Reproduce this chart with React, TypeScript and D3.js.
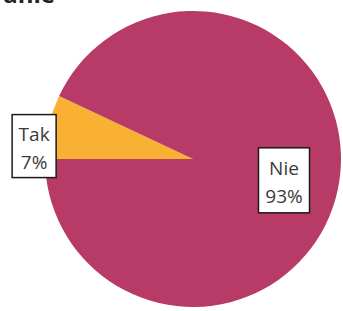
import React, { useEffect, useRef } from 'react';
import * as d3 from 'd3';

const categories = ['Tak', 'Nie'];
const values = [7, 93];
const colors = ['#F8B133', '#B83A67'];
const title = 'anie';

const App: React.FC = () => {
  const svgRef = useRef<SVGSVGElement>(null);

  useEffect(() => {
    if (!svgRef.current) return;
    const width = 343;
    const height = 311;
    const cx = 193;
    const cy = 159;
    const radius = 148;

    const svg = d3.select(svgRef.current).attr('width', width).attr('height', height);
    svg.selectAll('*').remove();

    // title, mostly cut off at the top edge like in the source image
    svg
      .append('text')
      .attr('x', 55)
      .attr('y', 3)
      .attr('text-anchor', 'end')
      .attr('font-family', 'Open Sans, sans-serif')
      .attr('font-weight', 'bold')
      .attr('font-size', 24)
      .attr('fill', '#222')
      .text(title);

    const g = svg.append('g').attr('transform', `translate(${cx},${cy})`);

    const data = categories.map((c, i) => ({ name: c, value: values[i], color: colors[i] }));
    const total = d3.sum(values);

    const pie = d3
      .pie<{ name: string; value: number; color: string }>()
      .sort(null)
      .value((d) => d.value)
      .startAngle(-Math.PI / 2)
      .endAngle((3 * Math.PI) / 2);

    const arcs = pie(data);
    const arc = d3
      .arc<d3.PieArcDatum<{ name: string; value: number; color: string }>>()
      .innerRadius(0)
      .outerRadius(radius);

    g.selectAll('path')
      .data(arcs)
      .enter()
      .append('path')
      .attr('d', arc)
      .attr('fill', (d) => d.data.color);

    // labels: small slice outside, big slice inside
    arcs.forEach((d) => {
      const mid = (d.startAngle + d.endAngle) / 2;
      const outside = d.endAngle - d.startAngle < 0.5;
      const sx = Math.sin(mid);
      const sy = -Math.cos(mid);
      const lx = outside ? sx * radius * 1.1 : sx * radius * 0.63;
      const ly = outside ? sy * radius * 0.4 : sy * radius * 0.66;
      const boxW = outside ? 44 : 51;
      const boxH = outside ? 63 : 65;

      const lg = g.append('g').attr('transform', `translate(${lx},${ly})`);
      lg.append('rect')
        .attr('x', -boxW / 2)
        .attr('y', -boxH / 2)
        .attr('width', boxW)
        .attr('height', boxH)
        .attr('fill', 'white')
        .attr('stroke', '#1a1a1a')
        .attr('stroke-width', 1.5);

      const t = lg
        .append('text')
        .attr('text-anchor', 'middle')
        .attr('font-family', 'Open Sans, sans-serif')
        .attr('font-size', 19)
        .attr('fill', '#3a3a3a');
      t.append('tspan').attr('x', 0).attr('y', -5).text(d.data.name);
      t.append('tspan')
        .attr('x', 0)
        .attr('y', 23)
        .text(`${Math.round((d.data.value / total) * 100)}%`);
    });
  }, []);

  return (
    <div style={{ position: 'fixed', left: 0, top: 0, width: 343, height: 311, background: 'white' }}>
      <svg ref={svgRef} style={{ display: 'block' }} />
    </div>
  );
};

export default App;
